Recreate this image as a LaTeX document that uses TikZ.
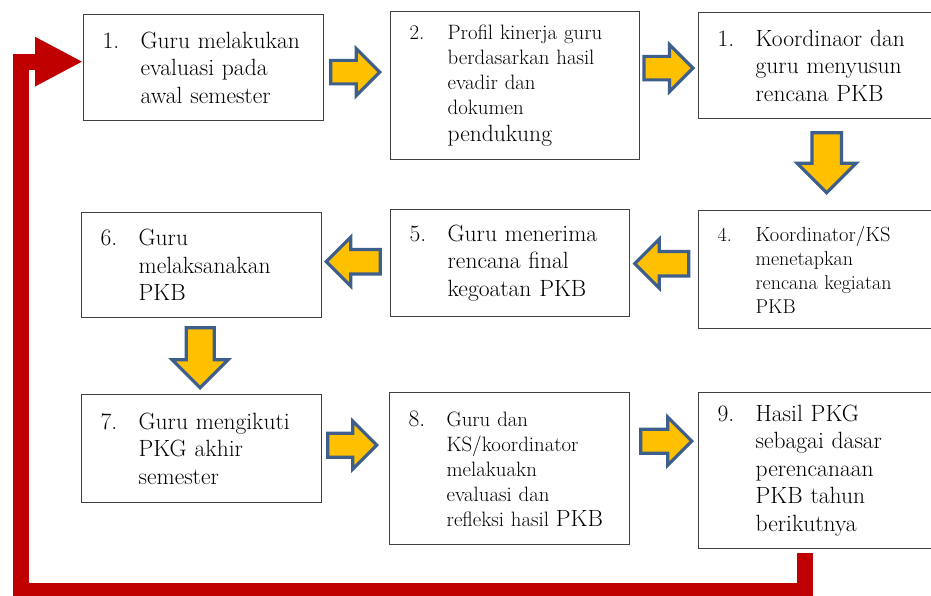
\documentclass[tikz,border=0pt]{standalone}
\usepackage{xcolor}
\usepackage{tikz}
\usetikzlibrary{arrows.meta, calc}

\definecolor{kuning}{HTML}{FFC000}
\definecolor{biru}{HTML}{3E5F8C}
\definecolor{merahtua}{HTML}{C00000}
\definecolor{abu}{HTML}{404040}

\newcommand{\nomor}[1]{\makebox[38pt][l]{#1}}
\newcommand{\geser}{\hspace*{38pt}}
% panah blok: titik tengah, sudut, panjang, lebar kepala
\newcommand{\panah}[4]{%
  \begin{scope}[shift={#1}, rotate=#2]
    \draw[panahblok] (-#3/2,-#4/4) -- (#3/2-#4/2,-#4/4) -- (#3/2-#4/2,-#4/2) -- (#3/2,0)
      -- (#3/2-#4/2,#4/2) -- (#3/2-#4/2,#4/4) -- (-#3/2,#4/4) -- cycle;
  \end{scope}}

\begin{document}
\begin{tikzpicture}[
		    x=1pt, y=-1pt,
		    every node/.style={anchor=north west},
		    font=\fontsize{23.5}{27.5}\selectfont
		]
		\tikzset{
		    kotak/.style={draw=abu, line width=1.3pt, inner xsep=19pt, inner ysep=0pt, align=left},
		    kecil/.style={font=\fontsize{20.8}{25}\selectfont},
		    panahblok/.style={draw=biru, fill=kuning, line width=3.2pt, line join=miter},
		    garisbalik/.style={draw=merahtua, line width=16pt, line join=miter,
		        -{Triangle[length=48pt, width=46pt]}}
		}
		\useasboundingbox (0,0) rectangle (931,596);
		\clip (0,0) rectangle (931,596);

		% baris atas
		\node[kotak, minimum width=240pt, minimum height=106pt, text width=202pt] (k1) at (83,14)
		  {\nomor{1.}Guru melakukan\\ \geser evaluasi pada\\ \geser awal semester};
		\node[kotak, kecil, minimum width=249pt, minimum height=148pt, text width=211pt] (k2) at (390,11)
		  {\nomor{2.}Profil kinerja guru\\ \geser berdasarkan hasil\\ \geser evadir dan\\ \geser dokumen\\[2pt]
		   \geser{\fontsize{23.5}{25}\selectfont pendukung}};
		\node[kotak, minimum width=256pt, minimum height=106pt, text width=218pt] (k3) at (698,12)
		  {\nomor{1.}Koordinaor dan\\ \geser guru menyusun\\ \geser rencana PKB};

		% baris tengah
		\node[kotak, font=\fontsize{20}{24}\selectfont, minimum width=256pt, minimum height=118pt, text width=218pt] (k4) at (698,210)
		  {\nomor{4.}{\fontsize{20.5}{24}\selectfont Koordinator/KS}\\ \geser menetapkan\\ \geser rencana kegiatan\\ \geser PKB};
		\node[kotak, minimum width=239pt, minimum height=107pt, text width=201pt] (k5) at (390,209)
		  {\nomor{5.}Guru menerima\\ \geser rencana final\\ \geser kegoatan PKB};
		\node[kotak, minimum width=240pt, minimum height=105pt, text width=202pt] (k6) at (81,212)
		  {\nomor{6.}Guru\\ \geser melaksanakan\\ \geser PKB};

		% baris bawah
		\node[kotak, minimum width=240pt, minimum height=108pt, text width=202pt] (k7) at (81,394)
		  {\nomor{7.}Guru mengikuti\\ \geser PKG akhir\\ \geser semester};
		\node[kotak, kecil, minimum width=240pt, minimum height=152pt, text width=202pt] (k8) at (389,392)
		  {\nomor{\fontsize{23.5}{25}\selectfont 8.}Guru dan\\ \geser KS/koordinator\\ \geser melakuakn\\ \geser evaluasi dan\\
		   \geser refleksi hasil {\fontsize{23.5}{25}\selectfont PKB}};
		\node[kotak, minimum width=256pt, minimum height=156pt, text width=218pt] (k9) at (698,392)
		  {\nomor{9.}Hasil PKG\\ \geser sebagai dasar\\ \geser perencanaan\\ \geser PKB tahun\\ \geser berikutnya};

		% panah antar langkah
		\panah{($(k1.east)+(31,4.5)$)}{0}{49}{47}
		\panah{($(k3.west)+(-29.5,2.5)$)}{0}{49}{47}
		\panah{($(k3.south)+(0,43.5)$)}{-90}{60}{59}
		\panah{($(k5.east)+(31.5,0.5)$)}{180}{54}{49}
		\panah{($(k6.east)+(31,-3.5)$)}{180}{54}{49}
		\panah{($(k6.south)+(-1.5,39.5)$)}{-90}{60}{56}
		\panah{($(k7.east)+(30,-3.5)$)}{0}{49}{48}
		\panah{($(k8.east)+(36,-27.5)$)}{0}{51}{48}

		% garis kembali ke langkah pertama
		\coordinate (awal) at (805,553);
		\draw[garisbalik] (awal) |- (21,591) |- ([yshift=6pt]k1.west);
		\end{tikzpicture}
\end{document}
